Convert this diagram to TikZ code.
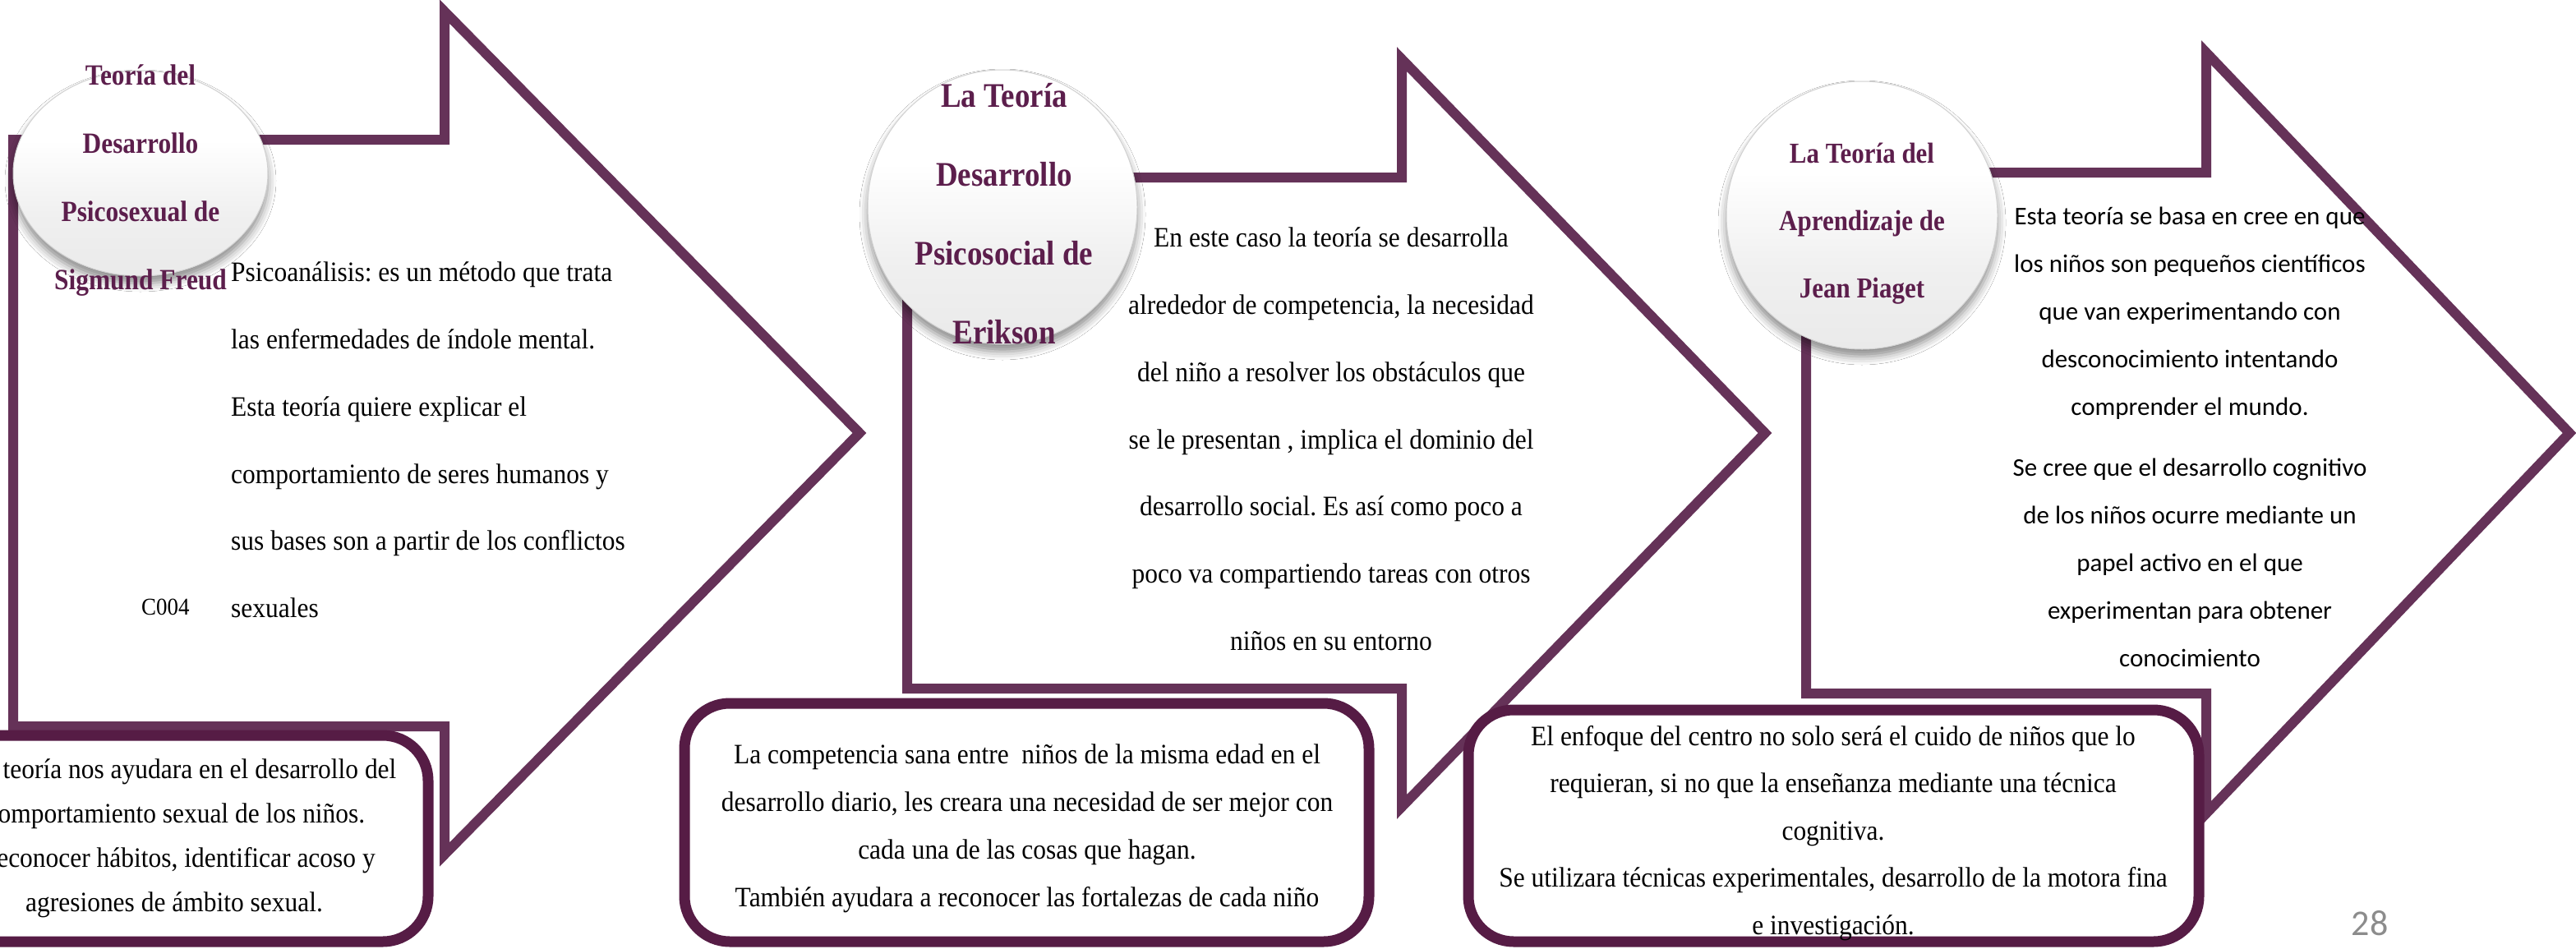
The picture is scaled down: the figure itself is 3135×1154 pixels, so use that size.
\documentclass[tikz,border=0pt]{standalone}
\usepackage{fontspec}
\setmainfont[FakeStretch=0.92]{Liberation Serif}
\newfontfamily\titlefont[FakeStretch=0.88]{Liberation Serif}
\newfontfamily\calib{Carlito}
\usetikzlibrary{shadows.blur,shapes.geometric}
\definecolor{arrowc}{RGB}{101,50,88}
\definecolor{boxc}{RGB}{86,28,69}
\definecolor{titlec}{RGB}{92,30,76}
\definecolor{pagec}{RGB}{140,140,140}
\pgfdeclareverticalshading{ballshade}{100bp}{color(0bp)=(black!12); color(40bp)=(black!6); color(58bp)=(white); color(100bp)=(white)}
\tikzset{
  arrowline/.style={draw=arrowc, line width=12pt, line join=miter, fill=white},
  ball/.style={ellipse, draw=black!18, line width=1pt, shading=ballshade,
    blur shadow={shadow xshift=0pt, shadow yshift=-9pt, shadow blur radius=10pt, shadow opacity=45}},
  titletext/.style={align=center, inner sep=0pt, text=titlec},
  bodytext/.style={inner sep=0pt, text=black, font=\fontsize{34.2}{81.7}\selectfont},
  sidebox/.style={draw=boxc, line width=13pt, fill=white, rounded corners=55pt},
  boxtext/.style={inner sep=0pt, text=black, align=center},
}
\frenchspacing
\begin{document}
\begin{tikzpicture}[x=1pt, y=-1pt]
\useasboundingbox (0,0) rectangle (3135,1154);
\fill[white] (0,0) rectangle (3135,1154);
\clip (0,0) rectangle (3135,1154);

% big arrows
\draw[arrowline] (16,170) -- (541,170) -- (541,14) -- (1046,527) -- (541,1040) -- (541,884) -- (16,884) -- cycle;
\draw[arrowline] (1104,216) -- (1706,216) -- (1706,72) -- (2148,527) -- (1706,982) -- (1706,838) -- (1104,838) -- cycle;
\draw[arrowline] (2198,210) -- (2685,210) -- (2685,64) -- (3127,527) -- (2685,990) -- (2685,844) -- (2198,844) -- cycle;

% title balls
\node[ball, minimum width=310pt, minimum height=250pt] (c1) at (171,211) {};
\node[ball, minimum width=328pt, minimum height=334pt] (c2) at (1220,252) {};
\node[ball, minimum width=330pt, minimum height=326pt] (c3) at (2266,262) {};

\node[titletext, anchor=north, font=\titlefont\fontsize{35.7}{83}\selectfont\bfseries] (t1) at (171,78)
  {Teoría del\\Desarrollo\\Psicosexual de\\Sigmund Freud};
\node[titletext, anchor=north, font=\titlefont\fontsize{42}{96}\selectfont\bfseries] (t2) at (1222,101)
  {La Teoría\\Desarrollo\\Psicosocial de\\Erikson};
\node[titletext, anchor=north, font=\titlefont\fontsize{35.2}{82}\selectfont\bfseries] (t3) at (2266,174)
  {La Teoría del\\Aprendizaje de\\Jean Piaget};

% arrow texts
\node[bodytext, anchor=north west, align=left] (a1) at (281,319)
  {Psicoanálisis: es un método que trata\\las enfermedades de índole mental.\\Esta teoría quiere explicar el\\comportamiento de seres humanos y\\sus bases son a partir de los conflictos\\sexuales};
\node[inner sep=0pt, anchor=west, font=\fontsize{29.3}{29.3}\selectfont] (code) at (172,739) {C004};

\node[bodytext, anchor=north, align=center] (a2) at (1620,277)
  {En este caso la teoría se desarrolla\\alrededor de competencia, la necesidad\\del niño a resolver los obstáculos que\\se le presentan , implica el dominio del\\desarrollo social. Es así como poco a\\poco va compartiendo tareas con otros\\niños en su entorno};

\node[inner sep=0pt, anchor=north, align=center, font=\calib\fontsize{31}{58}\selectfont] (a3) at (2665,252)
  {Esta teoría se basa en cree en que\\los niños son pequeños científicos\\que van experimentando con\\desconocimiento intentando\\comprender el mundo.\\[16pt]Se cree que el desarrollo cognitivo\\de los niños ocurre mediante un\\papel activo en el que\\experimentan para obtener\\conocimiento};

% bottom boxes
\draw[sidebox] (-110,895) rectangle (521,1146);
\draw[sidebox] (833,856) rectangle (1666,1146);
\draw[sidebox] (1787,864) rectangle (2676,1146);

\node[boxtext, anchor=north, font=\fontsize{34.2}{54}\selectfont] (b1) at (212,924)
  {\phantom{Esta }teoría nos ayudara en el desarrollo del\\\phantom{c}\hspace{4pt}omportamiento sexual de los niños.\\\phantom{R}\hspace{8pt}econocer hábitos, identificar acoso y\\agresiones de ámbito sexual.};
\node[boxtext, anchor=north, font=\fontsize{34.2}{57.7}\selectfont] (b2) at (1250,906)
  {La competencia sana entre \ niños de la misma edad en el\\desarrollo diario, les creara una necesidad de ser mejor con\\cada una de las cosas que hagan.\\También ayudara a reconocer las fortalezas de cada niño};
\node[boxtext, anchor=north, font=\fontsize{34.2}{57.5}\selectfont] (b3) at (2231,883)
  {El enfoque del centro no solo será el cuido de niños que lo\\requieran, si no que la enseñanza mediante una técnica\\cognitiva.\\Se utilizara técnicas experimentales, desarrollo de la motora fina\\e investigación.};

\node[inner sep=0pt, font=\calib\fontsize{44}{44}\selectfont, text=pagec] (pg) at (2884,1124) {28};
\end{tikzpicture}
\end{document}
